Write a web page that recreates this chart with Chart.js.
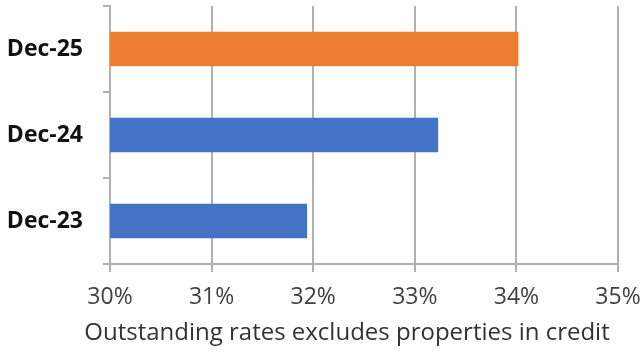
<!DOCTYPE html>
<html>
<head>
<meta charset="utf-8">
<script src="https://cdn.jsdelivr.net/npm/chart.js@4/dist/chart.umd.min.js"></script>
<style>
  html, body { margin: 0; padding: 0; background: #ffffff; }
  #wrap { width: 641px; height: 354px; position: relative; }
</style>
</head>
<body>
<div id="wrap"><canvas id="c" width="641" height="354"></canvas></div>
<script>
const categories = ['Dec-25', 'Dec-24', 'Dec-23'];
const values = [34.02, 33.23, 31.94];
const barColors = ['#ED7D31', '#4472C4', '#4472C4'];
const xTickMin = 30;
const xTickMax = 35;
const xTitle = 'Outstanding rates excludes properties in credit';

const gridColor = '#b0b0b0';

const axisTitlePlugin = {
  id: 'axisTitle',
  afterDraw(chart) {
    const ctx = chart.ctx;
    ctx.save();
    ctx.font = '24px "Open Sans"';
    ctx.fillStyle = '#333333';
    ctx.textAlign = 'center';
    ctx.textBaseline = 'middle';
    ctx.fillText(xTitle, 347, 333);
    ctx.restore();
  }
};

new Chart(document.getElementById('c'), {
  type: 'bar',
  data: {
    labels: categories,
    datasets: [{
      data: values,
      backgroundColor: barColors,
      borderWidth: 0,
      categoryPercentage: 0.8,
      barPercentage: 0.5
    }]
  },
  plugins: [axisTitlePlugin],
  options: {
    indexAxis: 'y',
    responsive: false,
    animation: false,
    devicePixelRatio: 1,
    layout: { padding: { left: 0, right: 23, top: 6, bottom: 3 } },
    plugins: { legend: { display: false }, tooltip: { enabled: false } },
    scales: {
      x: {
        min: xTickMin,
        max: xTickMax,
        ticks: {
          stepSize: 1,
          color: '#404040',
          padding: 12,
          font: { family: 'Open Sans', size: 23 },
          callback: v => v + '%'
        },
        grid: { color: gridColor, lineWidth: 2, tickLength: 8, drawOnChartArea: true },
        border: { color: gridColor, width: 2 },
        title: { display: false },
        afterFit: s => { s.height = 87; s.paddingLeft = 0; s.paddingRight = 0; }
      },
      y: {
        ticks: {
          color: '#111111',
          padding: 20,
          font: { family: 'Open Sans', size: 23, weight: 'bold' }
        },
        grid: { color: gridColor, lineWidth: 2, tickLength: 7, drawOnChartArea: false, offset: true },
        border: { color: gridColor, width: 2 },
        afterFit: s => { s.width = 110; s.paddingTop = 0; s.paddingBottom = 0; }
      }
    }
  }
});
</script>
</body>
</html>
